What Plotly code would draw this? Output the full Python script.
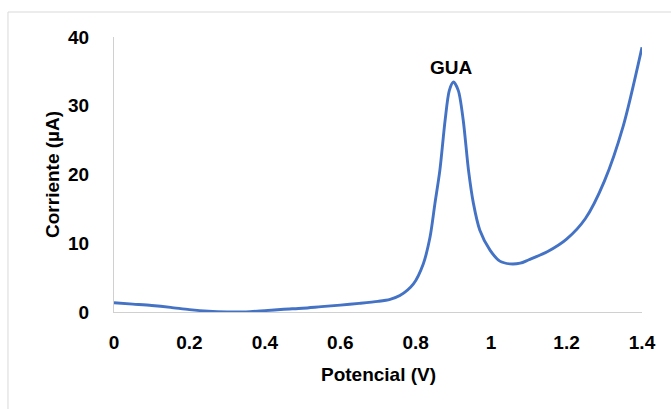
import plotly.graph_objects as go

# Data
potencial = [0.00, 0.05, 0.10, 0.15, 0.20, 0.25, 0.30, 0.35, 0.40, 0.45, 0.50, 0.55,
             0.60, 0.65, 0.70, 0.732, 0.758, 0.794, 0.820, 0.838, 0.851, 0.864, 0.878,
             0.889, 0.900, 0.913, 0.926, 0.940, 0.953, 0.970, 0.997, 1.023, 1.050,
             1.077, 1.10, 1.15, 1.20, 1.25, 1.30, 1.35, 1.40]
corriente = [1.35, 1.15, 0.95, 0.68, 0.35, 0.12, 0.02, 0.02, 0.20, 0.40, 0.55, 0.78,
             1.00, 1.25, 1.55, 1.85, 2.40, 4.10, 7.0, 10.9, 15.8, 20.6, 27.9,
             32.2, 33.45, 32.2, 27.9, 20.6, 15.8, 11.9, 9.0, 7.4, 7.0,
             7.1, 7.6, 8.8, 10.6, 13.6, 19.0, 27.0, 38.5]

x_ticks = [0, 0.2, 0.4, 0.6, 0.8, 1.0, 1.2, 1.4]
x_ticktext = ["0", "0.2", "0.4", "0.6", "0.8", "1", "1.2", "1.4"]
y_ticks = [0, 10, 20, 30, 40]
y_ticktext = ["0", "10", "20", "30", "40"]

x_title = "Potencial (V)"
y_title = "Corriente (µA)"
peak_label = "GUA"
peak_x = 0.896
peak_y = 35.6

FONT = "Liberation Sans, Arial, sans-serif"
TFONT = dict(family=FONT, size=19, color="black", weight="bold")

fig = go.Figure()
fig.add_trace(go.Scatter(
    x=potencial, y=corriente, mode="lines",
    line=dict(color="#4472C4", width=2.9, shape="spline", smoothing=0.8),
    showlegend=False, hoverinfo="skip",
))

fig.add_annotation(x=peak_x, y=peak_y, xref="x", yref="y", text=peak_label,
                   showarrow=False, xanchor="center", yanchor="middle", font=TFONT)
fig.add_annotation(x=0.5, y=-0.229, xref="paper", yref="paper", text=x_title,
                   showarrow=False, xanchor="center", yanchor="middle", font=TFONT)
fig.add_annotation(x=-0.1165, y=0.5, xref="paper", yref="paper", text=y_title,
                   showarrow=False, xanchor="center", yanchor="middle", textangle=-90,
                   font=TFONT)

fig.update_layout(
    width=671, height=409, autosize=False,
    margin=dict(l=114, r=29, t=37, b=97),
    paper_bgcolor="white", plot_bgcolor="white",
    font=TFONT,
    xaxis=dict(
        range=[0, 1.4], tickvals=x_ticks, ticktext=x_ticktext,
        showgrid=False, zeroline=False, showline=True, linecolor="#d0d0d0", linewidth=1,
        ticks="", ticklabelstandoff=13,
    ),
    yaxis=dict(
        range=[0, 40], tickvals=y_ticks, ticktext=y_ticktext,
        showgrid=False, zeroline=False, showline=True, linecolor="#d0d0d0", linewidth=1,
        ticks="", ticklabelstandoff=20,
    ),
    shapes=[
        dict(type="line", xref="paper", yref="paper", x0=-0.2008, x1=-0.2008, y0=1.0909, y1=-0.36,
             line=dict(color="#d9d9d9", width=1)),
        dict(type="line", xref="paper", yref="paper", x0=-0.2008, x1=1.06, y0=1.0909, y1=1.0909,
             line=dict(color="#d9d9d9", width=1)),
    ],
)

fig.write_html("out.html", config={"displayModeBar": False},
               post_script="document.body.style.margin='0';")
